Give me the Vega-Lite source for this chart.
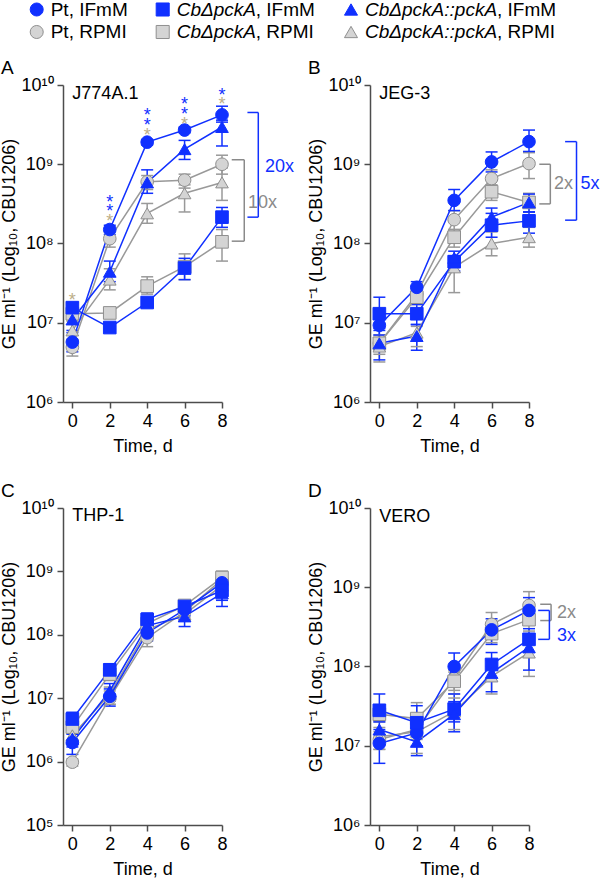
{
"$schema": "https://vega.github.io/schema/vega-lite/v6.json",
"padding": {"left": 0, "top": 0, "right": 0, "bottom": 0},
"background": "white",
"config": {
  "font": "Liberation Sans",
  "view": {"stroke": null},
  "axis": {"domainColor": "#4d4d4d", "domainWidth": 1.5, "tickColor": "#4d4d4d", "tickWidth": 1.5, "tickSize": 6, "labelFontSize": 18, "labelColor": "#000000", "titleFontSize": 18, "titleFontWeight": "normal", "titleColor": "#000000", "grid": false, "labelFlush": false, "labelOverlap": false, "labelPadding": 4, "titlePadding": 2},
  "axisX": {"labelOverlap": false, "labelSeparation": 0, "titlePadding": 7},
  "axisQuantitative": {"labelOverlap": false},
  "title": {"fontSize": 19, "fontWeight": "normal", "anchor": "start", "frame": "bounds", "offset": -2, "color": "#000000"},
  "text": {"fontSize": 18}
},
"datasets": {
  "pts": [
    {"p":"A","st":"Pt","m":"RPMI","d":0,"v":4.9e6,"lo":3.8e6,"hi":6.2e6},
    {"p":"A","st":"Pt","m":"RPMI","d":2,"v":1.15e8,"lo":9e7,"hi":1.4e8},
    {"p":"A","st":"Pt","m":"RPMI","d":4,"v":6e8,"lo":4.8e8,"hi":7.2e8},
    {"p":"A","st":"Pt","m":"RPMI","d":6,"v":6.3e8,"lo":5e8,"hi":7.5e8},
    {"p":"A","st":"Pt","m":"RPMI","d":8,"v":1.0e9,"lo":7.5e8,"hi":1.3e9},
    {"p":"A","st":"Cb","m":"RPMI","d":0,"v":1.3e7,"lo":1.1e7,"hi":1.5e7},
    {"p":"A","st":"Cb","m":"RPMI","d":2,"v":1.33e7,"lo":1.2e7,"hi":1.45e7},
    {"p":"A","st":"Cb","m":"RPMI","d":4,"v":2.9e7,"lo":2.3e7,"hi":3.8e7},
    {"p":"A","st":"Cb","m":"RPMI","d":6,"v":5.1e7,"lo":3.5e7,"hi":7.4e7},
    {"p":"A","st":"Cb","m":"RPMI","d":8,"v":1.05e8,"lo":6e7,"hi":1.5e8},
    {"p":"A","st":"Comp","m":"RPMI","d":0,"v":8e6,"lo":6e6,"hi":1.05e7},
    {"p":"A","st":"Comp","m":"RPMI","d":2,"v":3.5e7,"lo":2.6e7,"hi":4.8e7},
    {"p":"A","st":"Comp","m":"RPMI","d":4,"v":2.4e8,"lo":1.8e8,"hi":3.2e8},
    {"p":"A","st":"Comp","m":"RPMI","d":6,"v":4.3e8,"lo":2.5e8,"hi":5.5e8},
    {"p":"A","st":"Comp","m":"RPMI","d":8,"v":5.9e8,"lo":3.5e8,"hi":9e8},
    {"p":"A","st":"Pt","m":"IFmM","d":0,"v":5.7e6,"lo":4.3e6,"hi":7.5e6},
    {"p":"A","st":"Pt","m":"IFmM","d":2,"v":1.5e8,"lo":1.3e8,"hi":1.7e8},
    {"p":"A","st":"Pt","m":"IFmM","d":4,"v":1.9e9,"lo":1.75e9,"hi":2.05e9},
    {"p":"A","st":"Pt","m":"IFmM","d":6,"v":2.7e9,"lo":2.5e9,"hi":2.95e9},
    {"p":"A","st":"Pt","m":"IFmM","d":8,"v":4.2e9,"lo":3.6e9,"hi":5.4e9},
    {"p":"A","st":"Cb","m":"IFmM","d":0,"v":1.55e7,"lo":1.3e7,"hi":1.8e7},
    {"p":"A","st":"Cb","m":"IFmM","d":2,"v":8.7e6,"lo":8e6,"hi":9.5e6},
    {"p":"A","st":"Cb","m":"IFmM","d":4,"v":1.8e7,"lo":1.6e7,"hi":2.0e7},
    {"p":"A","st":"Cb","m":"IFmM","d":6,"v":4.9e7,"lo":3.5e7,"hi":6.5e7},
    {"p":"A","st":"Cb","m":"IFmM","d":8,"v":2.15e8,"lo":1.6e8,"hi":2.85e8},
    {"p":"A","st":"Comp","m":"IFmM","d":0,"v":1.1e7,"lo":8e6,"hi":1.4e7},
    {"p":"A","st":"Comp","m":"IFmM","d":2,"v":4.4e7,"lo":3.3e7,"hi":6e7},
    {"p":"A","st":"Comp","m":"IFmM","d":4,"v":5.9e8,"lo":4.3e8,"hi":8.5e8},
    {"p":"A","st":"Comp","m":"IFmM","d":6,"v":1.55e9,"lo":1.15e9,"hi":2.0e9},
    {"p":"A","st":"Comp","m":"IFmM","d":8,"v":2.95e9,"lo":1.7e9,"hi":3.4e9},

    {"p":"B","st":"Pt","m":"RPMI","d":0,"v":5.5e6,"lo":4e6,"hi":7e6},
    {"p":"B","st":"Pt","m":"RPMI","d":2,"v":2.3e7,"lo":1.9e7,"hi":2.8e7},
    {"p":"B","st":"Pt","m":"RPMI","d":4,"v":2.0e8,"lo":1.5e8,"hi":2.6e8},
    {"p":"B","st":"Pt","m":"RPMI","d":6,"v":6.6e8,"lo":5e8,"hi":8.5e8},
    {"p":"B","st":"Pt","m":"RPMI","d":8,"v":1.02e9,"lo":6.6e8,"hi":1.4e9},
    {"p":"B","st":"Cb","m":"RPMI","d":0,"v":5.5e6,"lo":4.5e6,"hi":6.5e6},
    {"p":"B","st":"Cb","m":"RPMI","d":2,"v":2.1e7,"lo":1.7e7,"hi":2.5e7},
    {"p":"B","st":"Cb","m":"RPMI","d":4,"v":1.2e8,"lo":9e7,"hi":1.5e8},
    {"p":"B","st":"Cb","m":"RPMI","d":6,"v":4.5e8,"lo":3.5e8,"hi":5.5e8},
    {"p":"B","st":"Cb","m":"RPMI","d":8,"v":3.3e8,"lo":2.5e8,"hi":4.3e8},
    {"p":"B","st":"Comp","m":"RPMI","d":0,"v":5e6,"lo":3.2e6,"hi":6.5e6},
    {"p":"B","st":"Comp","m":"RPMI","d":2,"v":7.5e6,"lo":5e6,"hi":9e6},
    {"p":"B","st":"Comp","m":"RPMI","d":4,"v":5e7,"lo":2.4e7,"hi":7e7},
    {"p":"B","st":"Comp","m":"RPMI","d":6,"v":1.0e8,"lo":7e7,"hi":1.4e8},
    {"p":"B","st":"Comp","m":"RPMI","d":8,"v":1.2e8,"lo":9e7,"hi":1.6e8},
    {"p":"B","st":"Pt","m":"IFmM","d":0,"v":9.3e6,"lo":7e6,"hi":1.2e7},
    {"p":"B","st":"Pt","m":"IFmM","d":2,"v":2.8e7,"lo":2.3e7,"hi":3.3e7},
    {"p":"B","st":"Pt","m":"IFmM","d":4,"v":3.5e8,"lo":2.6e8,"hi":4.8e8},
    {"p":"B","st":"Pt","m":"IFmM","d":6,"v":1.07e9,"lo":8e8,"hi":1.43e9},
    {"p":"B","st":"Pt","m":"IFmM","d":8,"v":1.93e9,"lo":1.45e9,"hi":2.7e9},
    {"p":"B","st":"Cb","m":"IFmM","d":0,"v":1.3e7,"lo":8.5e6,"hi":2.1e7},
    {"p":"B","st":"Cb","m":"IFmM","d":2,"v":1.3e7,"lo":9.5e6,"hi":1.7e7},
    {"p":"B","st":"Cb","m":"IFmM","d":4,"v":5.9e7,"lo":4.5e7,"hi":7e7},
    {"p":"B","st":"Cb","m":"IFmM","d":6,"v":1.7e8,"lo":1.2e8,"hi":2.4e8},
    {"p":"B","st":"Cb","m":"IFmM","d":8,"v":1.93e8,"lo":1.35e8,"hi":2.5e8},
    {"p":"B","st":"Comp","m":"IFmM","d":0,"v":5.5e6,"lo":3.4e6,"hi":8e6},
    {"p":"B","st":"Comp","m":"IFmM","d":2,"v":6.8e6,"lo":4.5e6,"hi":9.5e6},
    {"p":"B","st":"Comp","m":"IFmM","d":4,"v":6.6e7,"lo":4.5e7,"hi":8e7},
    {"p":"B","st":"Comp","m":"IFmM","d":6,"v":2.15e8,"lo":1.6e8,"hi":2.8e8},
    {"p":"B","st":"Comp","m":"IFmM","d":8,"v":3.3e8,"lo":2.5e8,"hi":4.2e8},

    {"p":"C","st":"Pt","m":"RPMI","d":0,"v":9.8e5,"lo":8.5e5,"hi":1.1e6},
    {"p":"C","st":"Pt","m":"RPMI","d":2,"v":1.0e7,"lo":8e6,"hi":1.3e7},
    {"p":"C","st":"Pt","m":"RPMI","d":4,"v":9e7,"lo":6.5e7,"hi":1.1e8},
    {"p":"C","st":"Pt","m":"RPMI","d":6,"v":2.3e8,"lo":1.9e8,"hi":2.8e8},
    {"p":"C","st":"Pt","m":"RPMI","d":8,"v":7.5e8,"lo":5.5e8,"hi":1.0e9},
    {"p":"C","st":"Cb","m":"RPMI","d":0,"v":3.5e6,"lo":2.8e6,"hi":4.3e6},
    {"p":"C","st":"Cb","m":"RPMI","d":2,"v":2.4e7,"lo":1.9e7,"hi":3e7},
    {"p":"C","st":"Cb","m":"RPMI","d":4,"v":1.5e8,"lo":1.2e8,"hi":1.9e8},
    {"p":"C","st":"Cb","m":"RPMI","d":6,"v":2.9e8,"lo":2.5e8,"hi":3.3e8},
    {"p":"C","st":"Cb","m":"RPMI","d":8,"v":8e8,"lo":6e8,"hi":1.0e9},
    {"p":"C","st":"Comp","m":"RPMI","d":0,"v":2.6e6,"lo":2e6,"hi":3.3e6},
    {"p":"C","st":"Comp","m":"RPMI","d":2,"v":1.15e7,"lo":8e6,"hi":1.5e7},
    {"p":"C","st":"Comp","m":"RPMI","d":4,"v":1.2e8,"lo":9e7,"hi":1.5e8},
    {"p":"C","st":"Comp","m":"RPMI","d":6,"v":2.1e8,"lo":1.7e8,"hi":2.5e8},
    {"p":"C","st":"Comp","m":"RPMI","d":8,"v":6e8,"lo":4.5e8,"hi":8e8},
    {"p":"C","st":"Pt","m":"IFmM","d":0,"v":2.0e6,"lo":1.3e6,"hi":2.7e6},
    {"p":"C","st":"Pt","m":"IFmM","d":2,"v":1.07e7,"lo":7.5e6,"hi":1.4e7},
    {"p":"C","st":"Pt","m":"IFmM","d":4,"v":1.07e8,"lo":8e7,"hi":1.4e8},
    {"p":"C","st":"Pt","m":"IFmM","d":6,"v":2.5e8,"lo":2e8,"hi":3e8},
    {"p":"C","st":"Pt","m":"IFmM","d":8,"v":6.6e8,"lo":4.8e8,"hi":8.5e8},
    {"p":"C","st":"Cb","m":"IFmM","d":0,"v":4.7e6,"lo":3.5e6,"hi":6e6},
    {"p":"C","st":"Cb","m":"IFmM","d":2,"v":2.8e7,"lo":2.2e7,"hi":3.5e7},
    {"p":"C","st":"Cb","m":"IFmM","d":4,"v":1.75e8,"lo":1.4e8,"hi":2.2e8},
    {"p":"C","st":"Cb","m":"IFmM","d":6,"v":2.8e8,"lo":2.4e8,"hi":3.2e8},
    {"p":"C","st":"Cb","m":"IFmM","d":8,"v":5.0e8,"lo":3.5e8,"hi":6.5e8},
    {"p":"C","st":"Comp","m":"IFmM","d":0,"v":2.3e6,"lo":1.7e6,"hi":3e6},
    {"p":"C","st":"Comp","m":"IFmM","d":2,"v":1.3e7,"lo":9e6,"hi":1.7e7},
    {"p":"C","st":"Comp","m":"IFmM","d":4,"v":1.4e8,"lo":1.1e8,"hi":1.8e8},
    {"p":"C","st":"Comp","m":"IFmM","d":6,"v":1.95e8,"lo":1.35e8,"hi":2.4e8},
    {"p":"C","st":"Comp","m":"IFmM","d":8,"v":4.5e8,"lo":2.8e8,"hi":6e8},

    {"p":"D","st":"Pt","m":"RPMI","d":0,"v":1.2e7,"lo":9e6,"hi":1.5e7},
    {"p":"D","st":"Pt","m":"RPMI","d":2,"v":1.6e7,"lo":1.2e7,"hi":2.2e7},
    {"p":"D","st":"Pt","m":"RPMI","d":4,"v":7e7,"lo":5e7,"hi":9e7},
    {"p":"D","st":"Pt","m":"RPMI","d":6,"v":3.4e8,"lo":2.4e8,"hi":4.8e8},
    {"p":"D","st":"Pt","m":"RPMI","d":8,"v":5.9e8,"lo":4.2e8,"hi":8.8e8},
    {"p":"D","st":"Cb","m":"RPMI","d":0,"v":2.5e7,"lo":2e7,"hi":3.2e7},
    {"p":"D","st":"Cb","m":"RPMI","d":2,"v":2.2e7,"lo":1.5e7,"hi":3.5e7},
    {"p":"D","st":"Cb","m":"RPMI","d":4,"v":6.5e7,"lo":4.5e7,"hi":8.5e7},
    {"p":"D","st":"Cb","m":"RPMI","d":6,"v":2.6e8,"lo":2e8,"hi":3.3e8},
    {"p":"D","st":"Cb","m":"RPMI","d":8,"v":3.9e8,"lo":2.8e8,"hi":5e8},
    {"p":"D","st":"Comp","m":"RPMI","d":0,"v":1.3e7,"lo":9e6,"hi":1.7e7},
    {"p":"D","st":"Comp","m":"RPMI","d":2,"v":1.5e7,"lo":8e6,"hi":2.5e7},
    {"p":"D","st":"Comp","m":"RPMI","d":4,"v":2.7e7,"lo":1.6e7,"hi":4e7},
    {"p":"D","st":"Comp","m":"RPMI","d":6,"v":7.5e7,"lo":4.5e7,"hi":1.0e8},
    {"p":"D","st":"Comp","m":"RPMI","d":8,"v":1.5e8,"lo":7.5e7,"hi":2.2e8},
    {"p":"D","st":"Pt","m":"IFmM","d":0,"v":1.07e7,"lo":6e6,"hi":1.6e7},
    {"p":"D","st":"Pt","m":"IFmM","d":2,"v":1.45e7,"lo":1.0e7,"hi":2e7},
    {"p":"D","st":"Pt","m":"IFmM","d":4,"v":1.0e8,"lo":7.5e7,"hi":1.48e8},
    {"p":"D","st":"Pt","m":"IFmM","d":6,"v":2.9e8,"lo":1.9e8,"hi":4e8},
    {"p":"D","st":"Pt","m":"IFmM","d":8,"v":5.1e8,"lo":3.5e8,"hi":7.4e8},
    {"p":"D","st":"Cb","m":"IFmM","d":0,"v":2.8e7,"lo":2e7,"hi":4.5e7},
    {"p":"D","st":"Cb","m":"IFmM","d":2,"v":1.95e7,"lo":1.4e7,"hi":3.2e7},
    {"p":"D","st":"Cb","m":"IFmM","d":4,"v":2.9e7,"lo":2e7,"hi":4.5e7},
    {"p":"D","st":"Cb","m":"IFmM","d":6,"v":1.06e8,"lo":6.5e7,"hi":1.5e8},
    {"p":"D","st":"Cb","m":"IFmM","d":8,"v":2.2e8,"lo":1.5e8,"hi":3e8},
    {"p":"D","st":"Comp","m":"IFmM","d":0,"v":1.6e7,"lo":1.2e7,"hi":2.1e7},
    {"p":"D","st":"Comp","m":"IFmM","d":2,"v":1.12e7,"lo":7.5e6,"hi":1.5e7},
    {"p":"D","st":"Comp","m":"IFmM","d":4,"v":2.5e7,"lo":1.5e7,"hi":3.6e7},
    {"p":"D","st":"Comp","m":"IFmM","d":6,"v":8.3e7,"lo":4.8e7,"hi":1.2e8},
    {"p":"D","st":"Comp","m":"IFmM","d":8,"v":1.75e8,"lo":9e7,"hi":2.6e8}
  ],
  "stars": [
    {"p":"A","d":0,"y":2.2e7,"c":"RPMI"},
    {"p":"A","d":2,"y":3.8e8,"c":"IFmM"},
    {"p":"A","d":2,"y":2.85e8,"c":"IFmM"},
    {"p":"A","d":2,"y":2.14e8,"c":"RPMI"},
    {"p":"A","d":4,"y":4.7e9,"c":"IFmM"},
    {"p":"A","d":4,"y":3.5e9,"c":"IFmM"},
    {"p":"A","d":4,"y":2.6e9,"c":"RPMI"},
    {"p":"A","d":6,"y":6.4e9,"c":"IFmM"},
    {"p":"A","d":6,"y":4.8e9,"c":"IFmM"},
    {"p":"A","d":6,"y":3.6e9,"c":"RPMI"},
    {"p":"A","d":8,"y":8.4e9,"c":"IFmM"},
    {"p":"A","d":8,"y":6.4e9,"c":"RPMI"}
  ],
  "ann": [
    {"p":"A","m":"IFmM","lo":2.15e8,"hi":4.5e9,"lab":"20x"},
    {"p":"A","m":"RPMI","lo":1.07e8,"hi":1.14e9,"lab":"10x"},
    {"p":"B","m":"RPMI","lo":3.16e8,"hi":1.0e9,"lab":"2x"},
    {"p":"B","m":"IFmM","lo":1.97e8,"hi":1.93e9,"lab":"5x"},
    {"p":"D","m":"RPMI","lo":3.8e8,"hi":6.1e8,"lab":"2x"},
    {"p":"D","m":"IFmM","lo":2.2e8,"hi":5.1e8,"lab":"3x"}
  ],
  "cells": [
    {"p":"A","name":"J774A.1"},
    {"p":"B","name":"JEG-3"},
    {"p":"C","name":"THP-1"},
    {"p":"D","name":"VERO"}
  ],
  "leg": [
    {"col":0,"row":0,"st":"Pt","m":"IFmM","it":"","rest":"Pt, IFmM"},
    {"col":1,"row":0,"st":"Cb","m":"IFmM","it":"CbΔpckA","rest":", IFmM"},
    {"col":2,"row":0,"st":"Comp","m":"IFmM","it":"CbΔpckA::pckA","rest":", IFmM"},
    {"col":0,"row":1,"st":"Pt","m":"RPMI","it":"","rest":"Pt, RPMI"},
    {"col":1,"row":1,"st":"Cb","m":"RPMI","it":"CbΔpckA","rest":", RPMI"},
    {"col":2,"row":1,"st":"Comp","m":"RPMI","it":"CbΔpckA::pckA","rest":", RPMI"}
  ]
},
"spacing": 17,
"vconcat": [
  {
    "width": 500, "height": 42,
    "view": {"fill": "white", "stroke": null},
    "data": {"name": "leg"},
    "layer": [
      {"mark": {"type": "point", "size": 170, "opacity": 1, "strokeWidth": 1},
       "encoding": {
         "x": {"field": "col", "type": "quantitative", "scale": {"domain": [0, 1, 2], "range": [-26.3, 99.7, 288]}, "axis": null},
         "y": {"field": "row", "type": "quantitative", "scale": {"domain": [0, 1], "range": [9.5, 32]}, "axis": null},
         "shape": {"field": "st", "type": "nominal", "scale": {"domain": ["Pt", "Cb", "Comp"], "range": ["circle", "square", "triangle-up"]}, "legend": null},
         "fill": {"field": "m", "type": "nominal", "scale": {"domain": ["IFmM", "RPMI"], "range": ["#1030ff", "#d4d4d4"]}, "legend": null},
         "stroke": {"field": "m", "type": "nominal", "scale": {"domain": ["IFmM", "RPMI"], "range": ["#1030ff", "#8f8f8f"]}, "legend": null}
       }},
      {"transform": [{"filter": "datum.col > 0"}],
       "mark": {"type": "text", "align": "left", "baseline": "middle", "dx": 14, "fontSize": 19, "fontStyle": "italic"},
       "encoding": {"x": {"field": "col", "type": "quantitative"}, "y": {"field": "row", "type": "quantitative"}, "text": {"field": "it"}}},
      {"transform": [{"filter": "datum.col == 0"}],
       "mark": {"type": "text", "align": "left", "baseline": "middle", "dx": 14, "fontSize": 19},
       "encoding": {"x": {"field": "col", "type": "quantitative"}, "y": {"field": "row", "type": "quantitative"}, "text": {"field": "rest"}}},
      {"transform": [{"filter": "datum.col == 1"}],
       "mark": {"type": "text", "align": "left", "baseline": "middle", "dx": 93, "fontSize": 19},
       "encoding": {"x": {"field": "col", "type": "quantitative"}, "y": {"field": "row", "type": "quantitative"}, "text": {"field": "rest"}}},
      {"transform": [{"filter": "datum.col == 2"}],
       "mark": {"type": "text", "align": "left", "baseline": "middle", "dx": 146, "fontSize": 19},
       "encoding": {"x": {"field": "col", "type": "quantitative"}, "y": {"field": "row", "type": "quantitative"}, "text": {"field": "rest"}}}
    ]
  },
  {
    "spacing": 27,
    "vconcat": [
      {
        "spacing": 12,
        "hconcat": [
          {
            "title": "A",
            "width": 159, "height": 317,
            "layer": [
              {"data": {"name": "pts"}, "transform": [{"filter": "datum.p === 'A'"}],
               "mark": {"type": "rule", "strokeWidth": 1.5},
               "encoding": {
                 "x": {"field": "d", "type": "quantitative", "scale": {"domain": [-0.5, 8], "nice": false, "zero": false}, "axis": {"values": [0, 2, 4, 6, 8], "tickCount": 5, "title": "Time, d", "labelOverlap": false, "labelSeparation": 0, "labelBound": false}},
                 "y": {"field": "lo", "type": "quantitative", "scale": {"type": "log", "domain": [1000000, 10000000000], "nice": false}, "axis": {"values": [1000000, 10000000, 100000000, 1000000000, 10000000000], "labelOverlap": false, "title": "GE ml⁻¹ (Log₁₀, CBU1206)", "labelExpr": "'10' + ['⁰','¹','²','³','⁴','⁵','⁶','⁷','⁸','⁹','¹⁰'][round(log(datum.value)/LN10)]"}},
                 "y2": {"field": "hi"},
                 "color": {"field": "m", "type": "nominal", "scale": {"domain": ["IFmM", "RPMI"], "range": ["#1030ff", "#999999"]}, "legend": null}
               }},
              {"data": {"name": "pts"}, "transform": [{"filter": "datum.p === 'A'"}, {"fold": ["lo", "hi"], "as": ["k", "e"]}],
               "mark": {"type": "tick", "orient": "horizontal", "size": 12, "thickness": 1.5, "opacity": 1},
               "encoding": {"x": {"field": "d", "type": "quantitative"}, "y": {"field": "e", "type": "quantitative"}, "color": {"field": "m", "type": "nominal", "legend": null}}},
              {"data": {"name": "pts"}, "transform": [{"filter": "datum.p === 'A'"}],
               "mark": {"type": "line", "strokeWidth": 1.5},
               "encoding": {"x": {"field": "d", "type": "quantitative"}, "y": {"field": "v", "type": "quantitative"}, "color": {"field": "m", "type": "nominal", "legend": null}, "detail": {"field": "st"}}},
              {"data": {"name": "pts"}, "transform": [{"filter": "datum.p === 'A'"}],
               "mark": {"type": "point", "size": 160, "opacity": 1, "strokeWidth": 1},
               "encoding": {"x": {"field": "d", "type": "quantitative"}, "y": {"field": "v", "type": "quantitative"},
                 "shape": {"field": "st", "type": "nominal", "scale": {"domain": ["Pt", "Cb", "Comp"], "range": ["circle", "square", "triangle-up"]}, "legend": null},
                 "fill": {"field": "m", "type": "nominal", "scale": {"domain": ["IFmM", "RPMI"], "range": ["#1030ff", "#d4d4d4"]}, "legend": null},
                 "stroke": {"field": "m", "type": "nominal", "scale": {"domain": ["IFmM", "RPMI"], "range": ["#1030ff", "#8f8f8f"]}, "legend": null}}},
              {"data": {"name": "stars"}, "transform": [{"filter": "datum.p === 'A' && datum.c === 'IFmM'"}],
               "mark": {"type": "text", "text": "*", "fontSize": 18, "color": "#1030ff", "baseline": "alphabetic", "dy": 10},
               "encoding": {"x": {"field": "d", "type": "quantitative"}, "y": {"field": "y", "type": "quantitative"}}},
              {"data": {"name": "stars"}, "transform": [{"filter": "datum.p === 'A' && datum.c === 'RPMI'"}],
               "mark": {"type": "text", "text": "*", "fontSize": 18, "color": "#bcae88", "baseline": "alphabetic", "dy": 10},
               "encoding": {"x": {"field": "d", "type": "quantitative"}, "y": {"field": "y", "type": "quantitative"}}},
              {"data": {"name": "cells"}, "transform": [{"filter": "datum.p === 'A'"}],
               "mark": {"type": "text", "align": "left", "baseline": "middle", "fontSize": 18},
               "encoding": {"x": {"datum": 0, "type": "quantitative"}, "y": {"datum": 7600000000, "type": "quantitative"}, "text": {"field": "name"}}},
              {"data": {"name": "ann"}, "transform": [{"filter": "datum.p === 'A' && datum.m === 'IFmM'"}],
               "mark": {"type": "rule", "color": "#1030ff", "strokeWidth": 1.5},
               "encoding": {"x": {"datum": 9.94, "type": "quantitative"}, "y": {"field": "lo", "type": "quantitative"}, "y2": {"field": "hi"}}},
              {"data": {"name": "ann"}, "transform": [{"filter": "datum.p === 'A' && datum.m === 'IFmM'"}, {"fold": ["lo", "hi"], "as": ["k", "e"]}],
               "mark": {"type": "rule", "color": "#1030ff", "strokeWidth": 1.5},
               "encoding": {"x": {"datum": 9.36, "type": "quantitative"}, "x2": {"datum": 9.94}, "y": {"field": "e", "type": "quantitative"}}},
              {"data": {"name": "ann"}, "transform": [{"filter": "datum.p === 'A' && datum.m === 'IFmM'"}],
               "mark": {"type": "text", "color": "#1030ff", "align": "left", "baseline": "middle", "fontSize": 18},
               "encoding": {"x": {"datum": 10.3, "type": "quantitative"}, "y": {"datum": 930000000, "type": "quantitative"}, "text": {"field": "lab"}}},
              {"data": {"name": "ann"}, "transform": [{"filter": "datum.p === 'A' && datum.m === 'RPMI'"}],
               "mark": {"type": "rule", "color": "#8a8a8a", "strokeWidth": 1.5},
               "encoding": {"x": {"datum": 9.19, "type": "quantitative"}, "y": {"field": "lo", "type": "quantitative"}, "y2": {"field": "hi"}}},
              {"data": {"name": "ann"}, "transform": [{"filter": "datum.p === 'A' && datum.m === 'RPMI'"}, {"fold": ["lo", "hi"], "as": ["k", "e"]}],
               "mark": {"type": "rule", "color": "#8a8a8a", "strokeWidth": 1.5},
               "encoding": {"x": {"datum": 8.52, "type": "quantitative"}, "x2": {"datum": 9.19}, "y": {"field": "e", "type": "quantitative"}}},
              {"data": {"name": "ann"}, "transform": [{"filter": "datum.p === 'A' && datum.m === 'RPMI'"}],
               "mark": {"type": "text", "color": "#8a8a8a", "align": "left", "baseline": "middle", "fontSize": 18},
               "encoding": {"x": {"datum": 9.39, "type": "quantitative"}, "y": {"datum": 320000000, "type": "quantitative"}, "text": {"field": "lab"}}}
            ]
          },
          {
            "title": "B",
            "width": 159, "height": 317,
            "layer": [
              {"data": {"name": "pts"}, "transform": [{"filter": "datum.p === 'B'"}],
               "mark": {"type": "rule", "strokeWidth": 1.5},
               "encoding": {
                 "x": {"field": "d", "type": "quantitative", "scale": {"domain": [-0.5, 8], "nice": false, "zero": false}, "axis": {"values": [0, 2, 4, 6, 8], "tickCount": 5, "title": "Time, d", "labelOverlap": false, "labelSeparation": 0, "labelBound": false}},
                 "y": {"field": "lo", "type": "quantitative", "scale": {"type": "log", "domain": [1000000, 10000000000], "nice": false}, "axis": {"values": [1000000, 10000000, 100000000, 1000000000, 10000000000], "labelOverlap": false, "title": "GE ml⁻¹ (Log₁₀, CBU1206)", "labelExpr": "'10' + ['⁰','¹','²','³','⁴','⁵','⁶','⁷','⁸','⁹','¹⁰'][round(log(datum.value)/LN10)]"}},
                 "y2": {"field": "hi"},
                 "color": {"field": "m", "type": "nominal", "scale": {"domain": ["IFmM", "RPMI"], "range": ["#1030ff", "#999999"]}, "legend": null}
               }},
              {"data": {"name": "pts"}, "transform": [{"filter": "datum.p === 'B'"}, {"fold": ["lo", "hi"], "as": ["k", "e"]}],
               "mark": {"type": "tick", "orient": "horizontal", "size": 12, "thickness": 1.5, "opacity": 1},
               "encoding": {"x": {"field": "d", "type": "quantitative"}, "y": {"field": "e", "type": "quantitative"}, "color": {"field": "m", "type": "nominal", "legend": null}}},
              {"data": {"name": "pts"}, "transform": [{"filter": "datum.p === 'B'"}],
               "mark": {"type": "line", "strokeWidth": 1.5},
               "encoding": {"x": {"field": "d", "type": "quantitative"}, "y": {"field": "v", "type": "quantitative"}, "color": {"field": "m", "type": "nominal", "legend": null}, "detail": {"field": "st"}}},
              {"data": {"name": "pts"}, "transform": [{"filter": "datum.p === 'B'"}],
               "mark": {"type": "point", "size": 160, "opacity": 1, "strokeWidth": 1},
               "encoding": {"x": {"field": "d", "type": "quantitative"}, "y": {"field": "v", "type": "quantitative"},
                 "shape": {"field": "st", "type": "nominal", "scale": {"domain": ["Pt", "Cb", "Comp"], "range": ["circle", "square", "triangle-up"]}, "legend": null},
                 "fill": {"field": "m", "type": "nominal", "scale": {"domain": ["IFmM", "RPMI"], "range": ["#1030ff", "#d4d4d4"]}, "legend": null},
                 "stroke": {"field": "m", "type": "nominal", "scale": {"domain": ["IFmM", "RPMI"], "range": ["#1030ff", "#8f8f8f"]}, "legend": null}}},
              {"data": {"name": "cells"}, "transform": [{"filter": "datum.p === 'B'"}],
               "mark": {"type": "text", "align": "left", "baseline": "middle", "fontSize": 18},
               "encoding": {"x": {"datum": 0, "type": "quantitative"}, "y": {"datum": 7600000000, "type": "quantitative"}, "text": {"field": "name"}}},
              {"data": {"name": "ann"}, "transform": [{"filter": "datum.p === 'B' && datum.m === 'IFmM'"}],
               "mark": {"type": "rule", "color": "#1030ff", "strokeWidth": 1.5},
               "encoding": {"x": {"datum": 10.54, "type": "quantitative"}, "y": {"field": "lo", "type": "quantitative"}, "y2": {"field": "hi"}}},
              {"data": {"name": "ann"}, "transform": [{"filter": "datum.p === 'B' && datum.m === 'IFmM'"}, {"fold": ["lo", "hi"], "as": ["k", "e"]}],
               "mark": {"type": "rule", "color": "#1030ff", "strokeWidth": 1.5},
               "encoding": {"x": {"datum": 9.93, "type": "quantitative"}, "x2": {"datum": 10.54}, "y": {"field": "e", "type": "quantitative"}}},
              {"data": {"name": "ann"}, "transform": [{"filter": "datum.p === 'B' && datum.m === 'IFmM'"}],
               "mark": {"type": "text", "color": "#1030ff", "align": "left", "baseline": "middle", "fontSize": 18},
               "encoding": {"x": {"datum": 10.75, "type": "quantitative"}, "y": {"datum": 560000000, "type": "quantitative"}, "text": {"field": "lab"}}},
              {"data": {"name": "ann"}, "transform": [{"filter": "datum.p === 'B' && datum.m === 'RPMI'"}],
               "mark": {"type": "rule", "color": "#8a8a8a", "strokeWidth": 1.5},
               "encoding": {"x": {"datum": 9.14, "type": "quantitative"}, "y": {"field": "lo", "type": "quantitative"}, "y2": {"field": "hi"}}},
              {"data": {"name": "ann"}, "transform": [{"filter": "datum.p === 'B' && datum.m === 'RPMI'"}, {"fold": ["lo", "hi"], "as": ["k", "e"]}],
               "mark": {"type": "rule", "color": "#8a8a8a", "strokeWidth": 1.5},
               "encoding": {"x": {"datum": 8.55, "type": "quantitative"}, "x2": {"datum": 9.14}, "y": {"field": "e", "type": "quantitative"}}},
              {"data": {"name": "ann"}, "transform": [{"filter": "datum.p === 'B' && datum.m === 'RPMI'"}],
               "mark": {"type": "text", "color": "#8a8a8a", "align": "left", "baseline": "middle", "fontSize": 18},
               "encoding": {"x": {"datum": 9.34, "type": "quantitative"}, "y": {"datum": 560000000, "type": "quantitative"}, "text": {"field": "lab"}}}
            ]
          }
        ]
      },
      {
        "spacing": 76,
        "hconcat": [
          {
            "title": "C",
            "width": 159, "height": 317,
            "layer": [
              {"data": {"name": "pts"}, "transform": [{"filter": "datum.p === 'C'"}],
               "mark": {"type": "rule", "strokeWidth": 1.5},
               "encoding": {
                 "x": {"field": "d", "type": "quantitative", "scale": {"domain": [-0.5, 8], "nice": false, "zero": false}, "axis": {"values": [0, 2, 4, 6, 8], "tickCount": 5, "title": "Time, d", "labelOverlap": false, "labelSeparation": 0, "labelBound": false}},
                 "y": {"field": "lo", "type": "quantitative", "scale": {"type": "log", "domain": [100000, 10000000000], "nice": false}, "axis": {"values": [100000, 1000000, 10000000, 100000000, 1000000000, 10000000000], "labelOverlap": false, "title": "GE ml⁻¹ (Log₁₀, CBU1206)", "labelExpr": "'10' + ['⁰','¹','²','³','⁴','⁵','⁶','⁷','⁸','⁹','¹⁰'][round(log(datum.value)/LN10)]"}},
                 "y2": {"field": "hi"},
                 "color": {"field": "m", "type": "nominal", "scale": {"domain": ["IFmM", "RPMI"], "range": ["#1030ff", "#999999"]}, "legend": null}
               }},
              {"data": {"name": "pts"}, "transform": [{"filter": "datum.p === 'C'"}, {"fold": ["lo", "hi"], "as": ["k", "e"]}],
               "mark": {"type": "tick", "orient": "horizontal", "size": 12, "thickness": 1.5, "opacity": 1},
               "encoding": {"x": {"field": "d", "type": "quantitative"}, "y": {"field": "e", "type": "quantitative"}, "color": {"field": "m", "type": "nominal", "legend": null}}},
              {"data": {"name": "pts"}, "transform": [{"filter": "datum.p === 'C'"}],
               "mark": {"type": "line", "strokeWidth": 1.5},
               "encoding": {"x": {"field": "d", "type": "quantitative"}, "y": {"field": "v", "type": "quantitative"}, "color": {"field": "m", "type": "nominal", "legend": null}, "detail": {"field": "st"}}},
              {"data": {"name": "pts"}, "transform": [{"filter": "datum.p === 'C'"}],
               "mark": {"type": "point", "size": 160, "opacity": 1, "strokeWidth": 1},
               "encoding": {"x": {"field": "d", "type": "quantitative"}, "y": {"field": "v", "type": "quantitative"},
                 "shape": {"field": "st", "type": "nominal", "scale": {"domain": ["Pt", "Cb", "Comp"], "range": ["circle", "square", "triangle-up"]}, "legend": null},
                 "fill": {"field": "m", "type": "nominal", "scale": {"domain": ["IFmM", "RPMI"], "range": ["#1030ff", "#d4d4d4"]}, "legend": null},
                 "stroke": {"field": "m", "type": "nominal", "scale": {"domain": ["IFmM", "RPMI"], "range": ["#1030ff", "#8f8f8f"]}, "legend": null}}},
              {"data": {"name": "cells"}, "transform": [{"filter": "datum.p === 'C'"}],
               "mark": {"type": "text", "align": "left", "baseline": "middle", "fontSize": 18},
               "encoding": {"x": {"datum": 0, "type": "quantitative"}, "y": {"datum": 7400000000, "type": "quantitative"}, "text": {"field": "name"}}}
            ]
          },
          {
            "title": "D",
            "width": 159, "height": 317,
            "layer": [
              {"data": {"name": "pts"}, "transform": [{"filter": "datum.p === 'D'"}],
               "mark": {"type": "rule", "strokeWidth": 1.5},
               "encoding": {
                 "x": {"field": "d", "type": "quantitative", "scale": {"domain": [-0.5, 8], "nice": false, "zero": false}, "axis": {"values": [0, 2, 4, 6, 8], "tickCount": 5, "title": "Time, d", "labelOverlap": false, "labelSeparation": 0, "labelBound": false}},
                 "y": {"field": "lo", "type": "quantitative", "scale": {"type": "log", "domain": [1000000, 10000000000], "nice": false}, "axis": {"values": [1000000, 10000000, 100000000, 1000000000, 10000000000], "labelOverlap": false, "title": "GE ml⁻¹ (Log₁₀, CBU1206)", "labelExpr": "'10' + ['⁰','¹','²','³','⁴','⁵','⁶','⁷','⁸','⁹','¹⁰'][round(log(datum.value)/LN10)]"}},
                 "y2": {"field": "hi"},
                 "color": {"field": "m", "type": "nominal", "scale": {"domain": ["IFmM", "RPMI"], "range": ["#1030ff", "#999999"]}, "legend": null}
               }},
              {"data": {"name": "pts"}, "transform": [{"filter": "datum.p === 'D'"}, {"fold": ["lo", "hi"], "as": ["k", "e"]}],
               "mark": {"type": "tick", "orient": "horizontal", "size": 12, "thickness": 1.5, "opacity": 1},
               "encoding": {"x": {"field": "d", "type": "quantitative"}, "y": {"field": "e", "type": "quantitative"}, "color": {"field": "m", "type": "nominal", "legend": null}}},
              {"data": {"name": "pts"}, "transform": [{"filter": "datum.p === 'D'"}],
               "mark": {"type": "line", "strokeWidth": 1.5},
               "encoding": {"x": {"field": "d", "type": "quantitative"}, "y": {"field": "v", "type": "quantitative"}, "color": {"field": "m", "type": "nominal", "legend": null}, "detail": {"field": "st"}}},
              {"data": {"name": "pts"}, "transform": [{"filter": "datum.p === 'D'"}],
               "mark": {"type": "point", "size": 160, "opacity": 1, "strokeWidth": 1},
               "encoding": {"x": {"field": "d", "type": "quantitative"}, "y": {"field": "v", "type": "quantitative"},
                 "shape": {"field": "st", "type": "nominal", "scale": {"domain": ["Pt", "Cb", "Comp"], "range": ["circle", "square", "triangle-up"]}, "legend": null},
                 "fill": {"field": "m", "type": "nominal", "scale": {"domain": ["IFmM", "RPMI"], "range": ["#1030ff", "#d4d4d4"]}, "legend": null},
                 "stroke": {"field": "m", "type": "nominal", "scale": {"domain": ["IFmM", "RPMI"], "range": ["#1030ff", "#8f8f8f"]}, "legend": null}}},
              {"data": {"name": "cells"}, "transform": [{"filter": "datum.p === 'D'"}],
               "mark": {"type": "text", "align": "left", "baseline": "middle", "fontSize": 18},
               "encoding": {"x": {"datum": 0, "type": "quantitative"}, "y": {"datum": 7800000000, "type": "quantitative"}, "text": {"field": "name"}}},
              {"data": {"name": "ann"}, "transform": [{"filter": "datum.p === 'D' && datum.m === 'RPMI'"}],
               "mark": {"type": "rule", "color": "#8a8a8a", "strokeWidth": 1.5},
               "encoding": {"x": {"datum": 9.18, "type": "quantitative"}, "y": {"field": "lo", "type": "quantitative"}, "y2": {"field": "hi"}}},
              {"data": {"name": "ann"}, "transform": [{"filter": "datum.p === 'D' && datum.m === 'RPMI'"}, {"fold": ["lo", "hi"], "as": ["k", "e"]}],
               "mark": {"type": "rule", "color": "#8a8a8a", "strokeWidth": 1.5},
               "encoding": {"x": {"datum": 8.6, "type": "quantitative"}, "x2": {"datum": 9.18}, "y": {"field": "e", "type": "quantitative"}}},
              {"data": {"name": "ann"}, "transform": [{"filter": "datum.p === 'D' && datum.m === 'RPMI'"}],
               "mark": {"type": "text", "color": "#8a8a8a", "align": "left", "baseline": "middle", "fontSize": 18},
               "encoding": {"x": {"datum": 9.5, "type": "quantitative"}, "y": {"datum": 470000000, "type": "quantitative"}, "text": {"field": "lab"}}},
              {"data": {"name": "ann"}, "transform": [{"filter": "datum.p === 'D' && datum.m === 'IFmM'"}],
               "mark": {"type": "rule", "color": "#1030ff", "strokeWidth": 1.5},
               "encoding": {"x": {"datum": 9.09, "type": "quantitative"}, "y": {"field": "lo", "type": "quantitative"}, "y2": {"field": "hi"}}},
              {"data": {"name": "ann"}, "transform": [{"filter": "datum.p === 'D' && datum.m === 'IFmM'"}, {"fold": ["lo", "hi"], "as": ["k", "e"]}],
               "mark": {"type": "rule", "color": "#1030ff", "strokeWidth": 1.5},
               "encoding": {"x": {"datum": 8.49, "type": "quantitative"}, "x2": {"datum": 9.09}, "y": {"field": "e", "type": "quantitative"}}},
              {"data": {"name": "ann"}, "transform": [{"filter": "datum.p === 'D' && datum.m === 'IFmM'"}],
               "mark": {"type": "text", "color": "#1030ff", "align": "left", "baseline": "middle", "fontSize": 18},
               "encoding": {"x": {"datum": 9.5, "type": "quantitative"}, "y": {"datum": 245000000, "type": "quantitative"}, "text": {"field": "lab"}}}
            ]
          }
        ]
      }
    ]
  }
]
}
